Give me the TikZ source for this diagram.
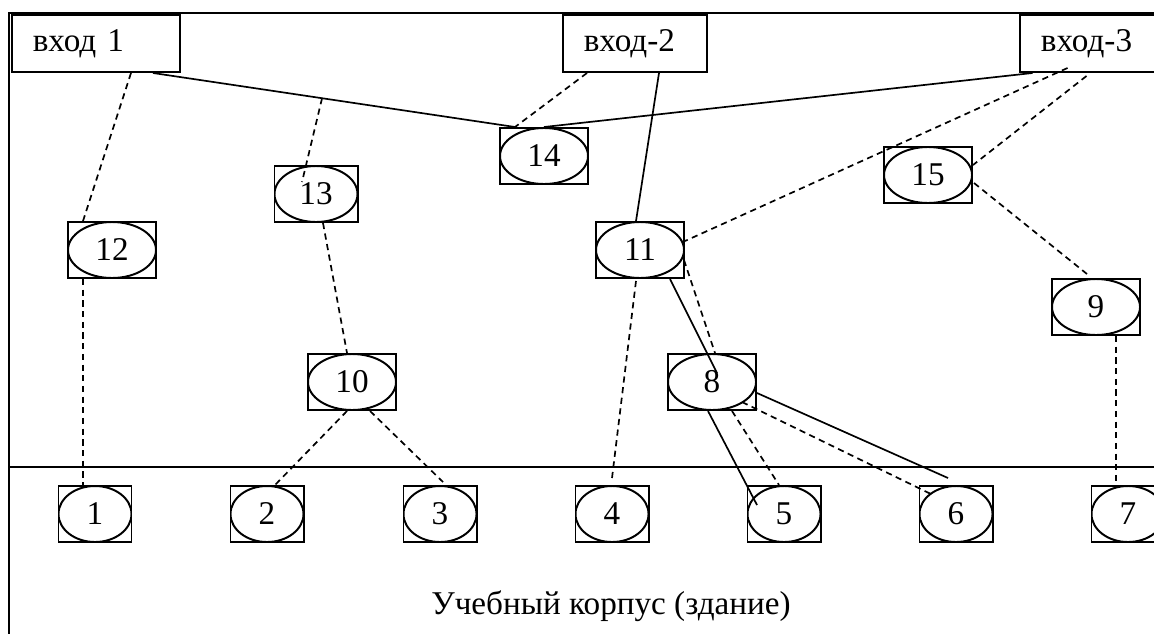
\documentclass[tikz,border=0pt]{standalone}
\usepackage{fontspec}
\setmainfont{Liberation Serif}
\usepackage{tikz}
\usetikzlibrary{calc}
\tikzset{
  cell/.style={draw,line width=0.7pt,minimum width=1.1cm,minimum height=0.7cm,inner sep=0pt,
               path picture={\draw[line width=0.7pt]
                 let \p1=(path picture bounding box.north east),
                     \p2=(path picture bounding box.center)
                 in (\p2) ellipse [x radius=\x1-\x2,y radius=\y1-\y2];}},  % прямоугольник + вписанный эллипс
  room/.style={cell,minimum width=0.9125cm},      % аудитории внизу
  entry/.style={draw,line width=0.7pt,minimum height=0.7125cm,
                inner xsep=0.26cm,inner ysep=0pt,align=left},  % входы
  link/.style={line width=0.6pt},                 % сплошная связь
  dlink/.style={line width=0.6pt,dash pattern=on 2.2pt off 1.6pt},  % пунктир
  frame/.style={line width=0.8pt}
}

\begin{document}
\begin{tikzpicture}[x=0.0125cm,y=-0.0125cm,font=\fontsize{11.8}{14}\selectfont]
  \path[use as bounding box,clip] (0,0) rectangle (1154,633);
  \draw[frame] (9,640) -- (9,13) -- (1160,13);
  \draw[link] (9,467) -- (1160,467);

  % входы
  \node[entry,text width=1.58cm] (in1) at (96,43.5) {вход 1};
  \node[entry,text width=1.28cm] (in2) at (635,43.5) {вход-2};
  \node[entry,text width=1.29cm] (in3) at (1092.5,43.5) {вход-3};

  % узлы
  \node[cell] (n14) at (544,156) {14};
  \node[cell,minimum width=1.0375cm] (n13) at (316,194) {13};
  \node[cell] (n12) at (112,250) {12};
  \node[cell] (n11) at (640,250) {11};
  \node[cell] (n15) at (928,175) {15};
  \node[cell] (n10) at (352,382) {10};
  \node[cell] (n8) at (712,382) {8};
  \node[cell] (n9) at (1096,307) {9};

  \node[room] (b1) at (95,514) {1};
  \node[room] (b2) at (267,514) {2};
  \node[room] (b3) at (440,514) {3};
  \node[room] (b4) at (612,514) {4};
  \node[room] (b5) at (784,514) {5};
  \node[room] (b6) at (956,514) {6};
  \node[room] (b7) at (1128,514) {7};

  \node (bldg) at (611,606) {Учебный корпус (здание)};

  % сплошные
  \draw[link] ($(in1.south)+(57,0)$) -- coordinate[pos=0.467] (s1) ($(n14.north)+(-29,0)$);
  \draw[link] ($(in3.south)+(-60,0)$) -- (n14.north);
  \draw[link] ($(in2.south)+(24,0)$) -- ($(n11.north)+(-4,0)$);
  \draw[link] ($(n11.south)+(30,0)$) -- ($(n8.center)+(5,-9)$);
  \draw[link] ($(n8.south)+(-4,0)$) -- ($(b5.center)+(-27,-9)$);
  \draw[link] ($(n8.east)+(0,11)$) -- ($(b6.north)+(-8,-7)$);

  % пунктирные
  \draw[dlink] ($(in1.south)+(35,0)$) -- ($(n12.north)+(-29,0)$);
  \draw[dlink] ($(n12.south)+(-29,0)$) -- ($(b1.north)+(-12,0)$);
  \draw[dlink] (s1) -- ($(n13.center)+(-14,-12)$);
  \draw[dlink] ($(n13.south)+(7,0)$) -- ($(n10.north)+(-5,0)$);
  \draw[dlink] ($(n10.south)+(-5,0)$) -- ($(b2.north)+(8,0)$);
  \draw[dlink] ($(n10.south)+(18,0)$) -- ($(b3.north)+(3,-3)$);
  \draw[dlink] ($(in2.south)+(-48,0)$) -- ($(n14.north)+(-29,0)$);
  \draw[dlink] ($(in3.south)+(-25,-5)$) -- ($(n11.east)+(0,-9)$);
  \draw[dlink] ($(in3.south)+(-6,3)$) -- ($(n15.east)+(0,-10)$);
  \draw[dlink] ($(n15.east)+(1,8)$) -- ($(n9.north)+(-9,-4)$);
  \draw[dlink] ($(n9.south)+(20,0)$) -- ($(b7.north)+(-12,-3)$);
  \draw[dlink] ($(n11.south)+(-4,2)$) -- ($(b4.north)+(0,-7)$);
  \draw[dlink] ($(n11.east)+(-1,10)$) -- ($(n8.north)+(3,0)$);
  \draw[dlink] ($(n8.south)+(20,0)$) -- ($(b5.north)+(-5,0)$);
  \draw[dlink] ($(n8.center)+(30,20)$) -- ($(b6.center)+(-23,-19)$);
\end{tikzpicture}
\end{document}
